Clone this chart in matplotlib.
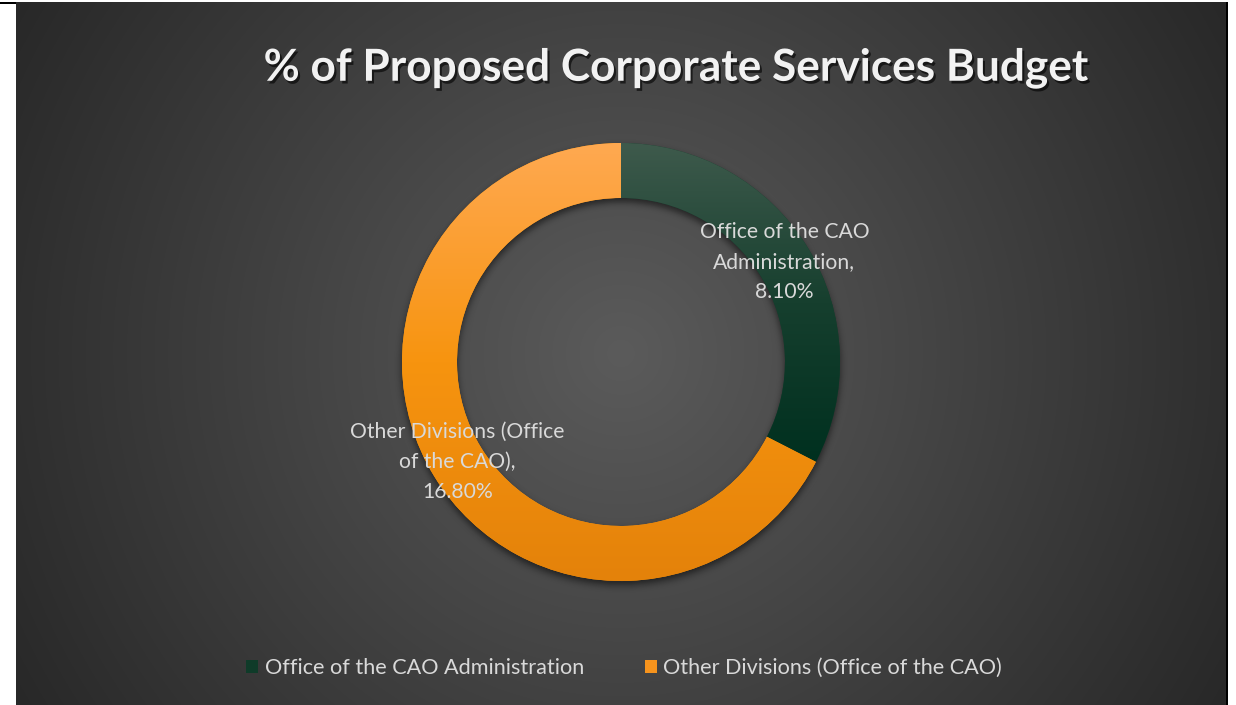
import numpy as np
import matplotlib
matplotlib.use("Agg")
import matplotlib.pyplot as plt
import matplotlib.patheffects as pe
from matplotlib.patches import Patch
from matplotlib.colors import LinearSegmentedColormap

# ---- data ----
title = "% of Proposed Corporate Services Budget"
categories = ["Office of the CAO Administration", "Other Divisions (Office of the CAO)"]
label_names = ["Office of the CAO\nAdministration", "Other Divisions (Office\nof the CAO)"]
shares = [8.10, 16.80]

# ---- styling ----
W, H = 1236, 705
FONT = "Lato"
slice_gradients = [
    ["#3e5a4c", "#163f2e", "#00301f"],   # green, top -> bottom
    ["#ffa951", "#f7940f", "#e4820a"],   # orange, top -> bottom
]
legend_colors = ["#0f3b29", "#f7941d"]
text_color = "#d9d9d9"

cx, cy = 621, H - 362      # donut centre (data coords, y up)
R_OUT, RING = 219, 55

fig = plt.figure(figsize=(W / 100, H / 100), dpi=100, facecolor="white")
ax = fig.add_axes([0, 0, 1, 1])

# ---- background panel with radial gradient ----
yy, xx = np.mgrid[0:H, 0:W] + 0.5
px0, px1, py0 = 16, 1226, 2
pcx, pcy = (px0 + px1) / 2, (py0 + H) / 2
dist = np.hypot(xx - pcx, yy - pcy) / np.hypot(px1 - pcx, H - pcy)
c_mid, c_edge = 0x5b / 255, 0x28 / 255
shade = c_mid + (c_edge - c_mid) * np.clip(dist, 0, 1)
img = np.ones((H, W, 3))
inside = (xx >= px0) & (xx < px1) & (yy >= py0)
for k in range(3):
    img[..., k] = np.where(inside, shade, 1.0)
img[(yy >= 2) & (yy < 4) & (xx < px0)] = 0.0
img[(xx >= px1) & (xx < px1 + 2) & (yy >= py0)] = 0.0
ax.imshow(img, extent=(0, W, 0, H), origin="upper", interpolation="nearest",
          aspect="auto", zorder=0)

# ---- soft drop shadow under the ring ----
def box_blur(a, r):
    for axis in (0, 1):
        c = np.cumsum(np.pad(a, [(r + 1, r) if i == axis else (0, 0) for i in range(2)],
                             mode="edge"), axis=axis)
        if axis == 0:
            a = (c[2 * r + 1:] - c[:-2 * r - 1]) / (2 * r + 1)
        else:
            a = (c[:, 2 * r + 1:] - c[:, :-2 * r - 1]) / (2 * r + 1)
    return a

rr = np.hypot(xx - cx, yy - (H - cy) - 4)
ring_mask = ((rr >= R_OUT - RING) & (rr <= R_OUT)).astype(float)
for _ in range(3):
    ring_mask = box_blur(ring_mask, 3)
shadow = np.zeros((H, W, 4))
shadow[..., 3] = ring_mask * 0.55
ax.imshow(shadow, extent=(0, W, 0, H), origin="upper", aspect="auto", zorder=1)

# ---- donut ----
wedges, _ = ax.pie(shares, colors=[g[1] for g in slice_gradients], startangle=90,
                   counterclock=False, radius=R_OUT, center=(cx, cy),
                   wedgeprops=dict(width=RING, linewidth=0), frame=True)
for w, stops in zip(wedges, slice_gradients):
    w.set_zorder(2)
    ext = w.get_path().get_extents()
    cmap = LinearSegmentedColormap.from_list("slice", stops)
    grad = np.linspace(0, 1, 256).reshape(-1, 1)
    im = ax.imshow(grad, cmap=cmap, extent=(ext.x0, ext.x1, ext.y0, ext.y1),
                   origin="upper", aspect="auto", interpolation="bilinear", zorder=3)
    im.set_clip_path(w)

# data labels at the middle of each slice
r_lab = R_OUT - RING / 2
for w, name, v in zip(wedges, label_names, shares):
    ang = np.deg2rad((w.theta1 + w.theta2) / 2)
    ax.text(cx + r_lab * np.cos(ang), cy + r_lab * np.sin(ang), f"{name},\n{v:.2f}%",
            ha="center", va="center", multialignment="center", color=text_color,
            fontsize=15.2, family=FONT, linespacing=1.62, zorder=5)

# ---- title ----
ax.text(676, H - 68, title, ha="center", va="center", fontsize=31.8, fontweight="bold",
        family=FONT, color="#f2f2f2", zorder=5,
        path_effects=[pe.SimplePatchShadow(offset=(1.5, -2), shadow_rgbFace="black", alpha=0.6),
                      pe.Normal()])

# ---- legend ----
handles = [Patch(facecolor=c, edgecolor="none") for c in legend_colors]
leg = ax.legend(handles, categories, ncol=2, loc="center",
                bbox_to_anchor=(624 / W, 37 / H), frameon=False,
                handlelength=0.55, handleheight=0.55, handletextpad=0.3,
                columnspacing=2.8, prop=dict(family=FONT, size=15.6))
for t in leg.get_texts():
    t.set_color(text_color)
leg.set_zorder(6)

ax.set_xlim(0, W)
ax.set_ylim(0, H)
ax.set_aspect("auto")
ax.axis("off")
fig.savefig("out.png", dpi=100, facecolor="white")
